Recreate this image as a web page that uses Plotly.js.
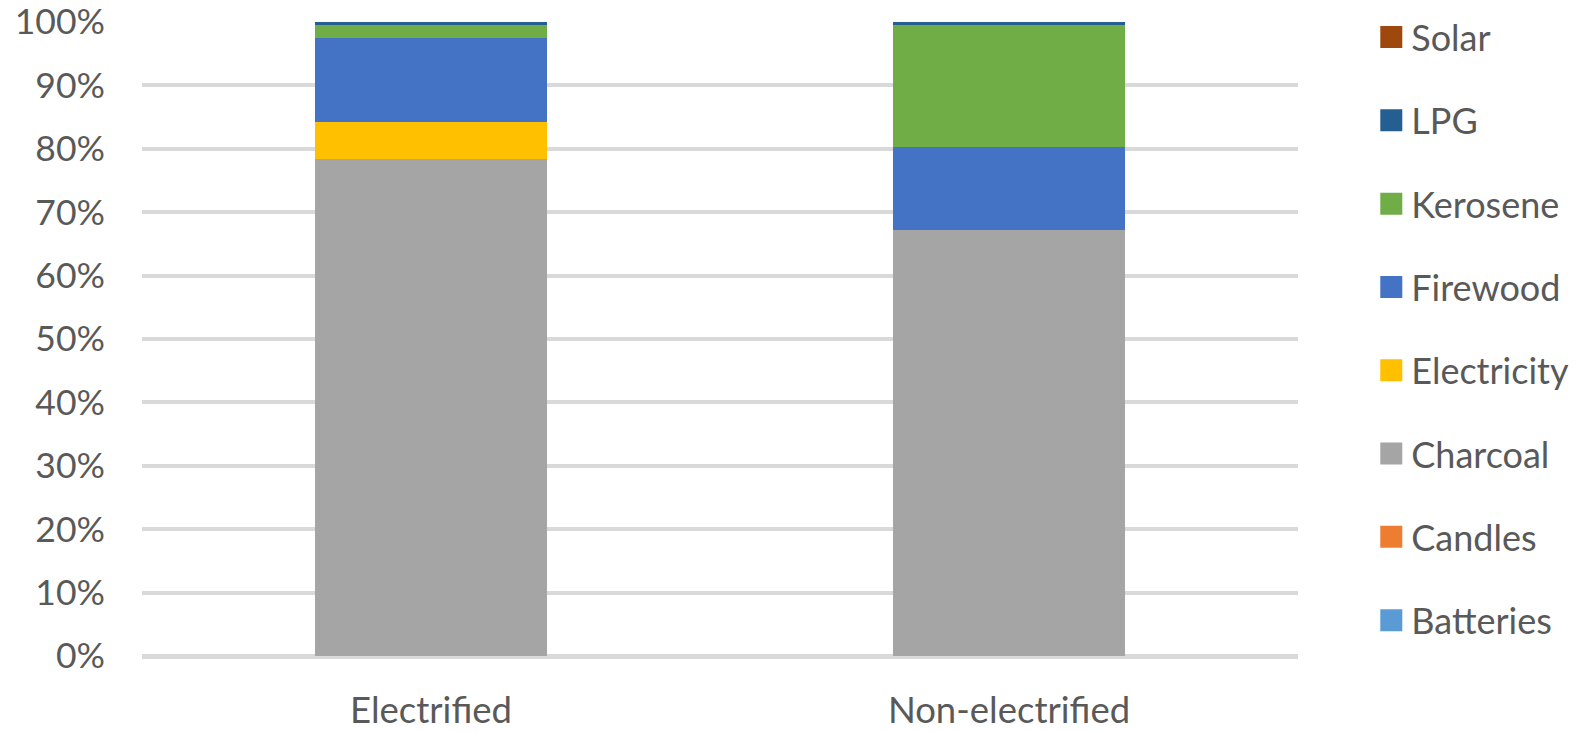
<!DOCTYPE html>
<html>
<head>
<meta charset="utf-8">
<script src="https://cdn.plot.ly/plotly-3.0.1.min.js"></script>
<style>
html,body{margin:0;padding:0;background:#fff;}
#chart{width:1575px;height:731px;}
</style>
</head>
<body>
<div id="chart"></div>
<script>
// Categories
var categories = ["Electrified", "Non-electrified"];

// Series values (% share), stacked bottom to top
var batteries   = [0, 0];
var candles     = [0, 0];
var charcoal    = [78.4, 67.2];
var electricity = [5.9, 0];
var firewood    = [13.2, 13.1];
var kerosene    = [2.0, 19.2];
var lpg         = [0.5, 0.5];
var solar       = [0, 0];

var seriesNames  = ["Batteries", "Candles", "Charcoal", "Electricity", "Firewood", "Kerosene", "LPG", "Solar"];
var seriesValues = [batteries, candles, charcoal, electricity, firewood, kerosene, lpg, solar];
var seriesColors = ["#5B9BD5", "#ED7D31", "#A5A5A5", "#FFC000", "#4472C4", "#70AD47", "#255E91", "#9E480E"];

var yTickVals = [0, 10, 20, 30, 40, 50, 60, 70, 80, 90, 100];
var yTickText = ["0%", "10%", "20%", "30%", "40%", "50%", "60%", "70%", "80%", "90%", "100%"];

var traces = seriesNames.map(function (name, i) {
  return {
    type: "bar",
    name: name,
    x: categories,
    y: seriesValues[i],
    marker: { color: seriesColors[i], line: { width: 0 } },
    legendgroup: name,
    legendrank: 1000 - i,
    hoverinfo: "name+y"
  };
});

var fontFamily = "Lato, 'Open Sans', sans-serif";
var textColor = "#595959";

var layout = {
  width: 1575,
  height: 731,
  paper_bgcolor: "#ffffff",
  plot_bgcolor: "#ffffff",
  barmode: "stack",
  bargap: 0.6,
  margin: { l: 142, r: 277, t: 22, b: 75, pad: 0, autoexpand: false },
  font: { family: fontFamily, size: 36, color: textColor },
  xaxis: {
    type: "category",
    showgrid: false,
    showline: false,
    zeroline: false,
    ticks: "",
    tickfont: { family: fontFamily, size: 36.5, color: textColor },
    ticklabelstandoff: 29,
    ticklabeloverflow: "allow"
  },
  yaxis: {
    range: [0, 100],
    tickvals: yTickVals,
    ticktext: yTickText,
    showgrid: true,
    gridcolor: "#D9D9D9",
    gridwidth: 4,
    zeroline: true,
    zerolinecolor: "#D9D9D9",
    zerolinewidth: 5,
    showline: false,
    ticks: "",
    tickfont: { family: fontFamily, size: 35.5, color: textColor },
    ticklabelstandoff: 36,
    ticklabeloverflow: "allow"
  },
  legend: {
    x: 1.0634,
    xanchor: "left",
    y: 1.0234,
    yanchor: "top",
    maxheight: 1,
    traceorder: "grouped",
    tracegroupgap: 33.5,
    font: { family: fontFamily, size: 36, color: textColor },
    bgcolor: "rgba(0,0,0,0)"
  },
  showlegend: true
};

Plotly.newPlot("chart", traces, layout, { displayModeBar: false, staticPlot: true }).then(function (gd) {
  // enlarge the legend colour squares to match the reference swatches
  var pts = gd.querySelectorAll(".legend .legendpoints path");
  pts.forEach(function (p) { p.setAttribute("d", "M11,11H-11V-11H11Z"); });
});
</script>
</body>
</html>
